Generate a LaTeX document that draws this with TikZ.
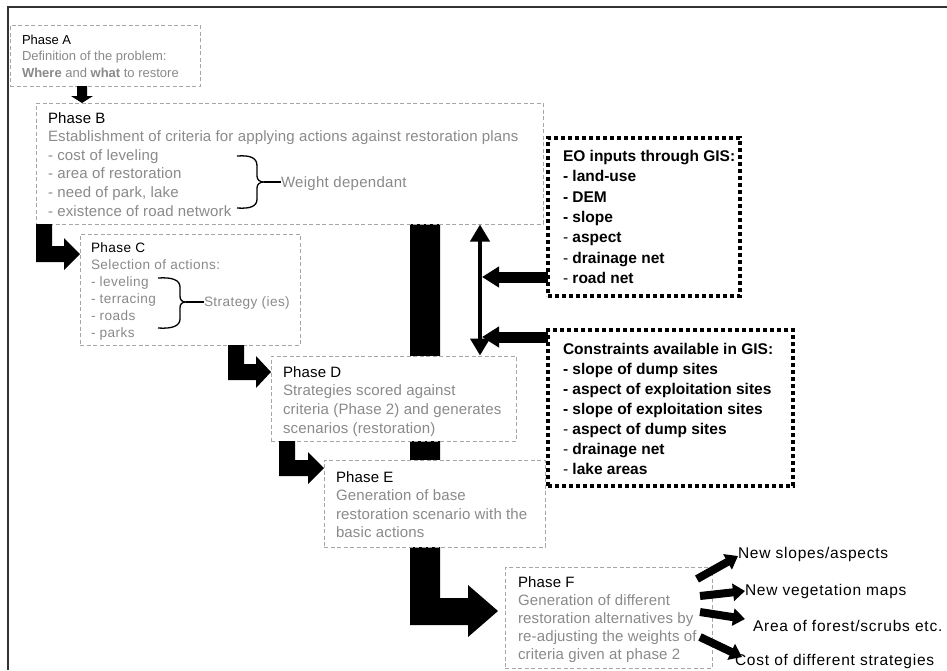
\documentclass[tikz,border=0pt]{standalone}
\usepackage{fontspec}
\setmainfont{Liberation Sans}
\usetikzlibrary{arrows.meta}
\definecolor{txtgray}{HTML}{8A8A8A}
\definecolor{boxgray}{HTML}{A6A6A6}
\newcommand{\glin}[1]{\hbox{\color{txtgray}#1}}
\newcommand{\blin}[1]{\hbox{#1}}
\newcommand{\nb}{\textmd{-}}
\newcommand{\lsp}[1]{\addfontfeature{LetterSpace=#1}}
\tikzset{
  phasebox/.style={draw=boxgray, line width=0.9pt, dash pattern=on 4pt off 2.5pt, fill=white, inner sep=0pt, outer sep=0pt, anchor=north west},
  eobox/.style={draw=black, line width=4pt, dash pattern=on 4pt off 3pt, inner sep=0pt, outer sep=0pt, anchor=north west},
  txt/.style={inner sep=0pt, outer sep=0pt, anchor=base west},
  blockarrow/.style={fill=black},
  gisarrow/.style={line width=11pt, -{Triangle[length=17pt,width=20pt]}},
  outarrow/.style={line width=8pt, -{Triangle[length=12pt,width=17pt]}},
  bracepath/.style={line width=1.3pt},
  frameline/.style={line width=1.8pt, draw=black!80},
  outlabel/.style={txt, font=\fontsize{15.5}{18}\selectfont\lsp{5}},
}
\begin{document}
\begin{tikzpicture}[x=1pt,y=-1pt]
\useasboundingbox (0,0) rectangle (947,670);
\fill[white] (0,0) rectangle (947,670);
% frame
\draw[frameline] (8,670) -- (8,7) -- (947,7);

% big bar + L arrow to Phase F (behind boxes D and E)
\fill[blockarrow] (410,224) -- (410,625) -- (468,625) -- (468,637) -- (498,611) -- (468,585) -- (468,598) -- (440,598) -- (440,224) -- cycle;

% phase boxes
\node[phasebox, minimum width=190pt, minimum height=61pt] (boxA) at (10,25) {};
\node[phasebox, minimum width=507pt, minimum height=121pt] (boxB) at (36,103) {};
\node[phasebox, minimum width=220pt, minimum height=111pt] (boxC) at (80,234) {};
\node[phasebox, minimum width=245pt, minimum height=85pt] (boxD) at (271,356) {};
\node[phasebox, minimum width=221pt, minimum height=87pt] (boxE) at (324,460) {};
\node[phasebox, minimum width=207pt, minimum height=101pt] (boxF) at (505,567) {};

% dotted GIS boxes
\node[eobox, minimum width=192pt, minimum height=158pt] (eo) at (548,138) {};
\node[eobox, minimum width=245pt, minimum height=156pt] (cons) at (548,330) {};

% texts of phases
\node[txt] (tA) at (22,44) {\fontsize{13}{16.7}\selectfont\vtop{\blin{Phase A}\glin{Definition of the problem:}\glin{\textbf{Where} and \textbf{what} to restore}}};
\node[txt] (tB) at (48,123) {\fontsize{15}{18.6}\selectfont\lsp{1}\vtop{\blin{Phase B}\glin{Establishment of criteria for applying actions against restoration plans}\glin{- cost of leveling}\glin{- area of restoration}\glin{- need of park, lake}\glin{- existence of road network}}};
\node[txt] (wd) at (281,187) {\fontsize{15}{18}\selectfont\lsp{2}\color{txtgray}Weight dependant};
\node[txt] (tC) at (91,252) {\fontsize{13.6}{17}\selectfont\lsp{3}\vtop{\blin{Phase C}\glin{Selection of actions:}\glin{- leveling}\glin{- terracing}\glin{- roads}\glin{- parks}}};
\node[txt] (st) at (204,306) {\fontsize{13.6}{17}\selectfont\lsp{3}\color{txtgray}Strategy (ies)};
\node[txt] (tD) at (283,377) {\fontsize{15}{18.7}\selectfont\lsp{1}\vtop{\blin{Phase D}\glin{Strategies scored against}\glin{criteria (Phase 2) and generates}\glin{scenarios (restoration)}}};
\node[txt] (tE) at (336,482) {\fontsize{15}{18.5}\selectfont\lsp{1}\vtop{\blin{Phase E}\glin{Generation of base}\glin{restoration scenario with the}\glin{basic actions}}};
\node[txt] (tF) at (518,587) {\fontsize{15}{18}\selectfont\lsp{1}\vtop{\blin{Phase F}\glin{Generation of different}\glin{restoration alternatives by}\glin{re-adjusting the weights of}\glin{criteria given at phase 2}}};

% GIS texts
\node[txt] (tEO) at (563,161.5) {\fontsize{15.5}{20.3}\selectfont\bfseries\vtop{\blin{EO inputs through GIS:}\blin{- land-use}\blin{- DEM}\blin{- slope}\blin{\nb{} aspect}\blin{\nb{} drainage net}\blin{\nb{} road net}}};
\node[txt] (tCons) at (563,354.5) {\fontsize{15.5}{20}\selectfont\bfseries\vtop{\blin{Constraints available in GIS:}\blin{- slope of dump sites}\blin{- aspect of exploitation sites}\blin{- slope of exploitation sites}\blin{\nb{} aspect of dump sites}\blin{\nb{} drainage net}\blin{\nb{} lake areas}}};

% output labels
\node[outlabel] (o1) at (738,558.5) {New slopes/aspects};
\node[outlabel] (o2) at (745,595.5) {New vegetation maps};
\node[outlabel] (o3) at (753,631.5) {Area of forest/scrubs etc.};
\node[outlabel] (o4) at (735,665.5) {Cost of different strategies};

% braces
\draw[bracepath] (237,156) .. controls (251,155) and (257,158) .. (257,166) -- (257,176)
  .. controls (257,180) and (260,182) .. (264,182) .. controls (260,182) and (257,184) .. (257,188)
  -- (257,199) .. controls (257,206) and (251,209) .. (237,208);
\draw[bracepath] (264,182) -- (wd.west |- 0,182);
\draw[bracepath] (158,278) .. controls (172,277) and (180,280) .. (180,287) -- (180,296)
  .. controls (180,300) and (182,302) .. (186,302) .. controls (182,302) and (180,304) .. (180,308)
  -- (180,319) .. controls (180,326) and (172,329) .. (158,328);
\draw[bracepath] (186,302) -- (st.west |- 0,302);

% block arrows between phases
\fill[blockarrow] (77,86) -- (77,96) -- (71,96) -- (82,103) -- (93,96) -- (87,96) -- (87,86) -- cycle;
\fill[blockarrow] (36,224) -- (36,262) -- (64,262) -- (64,270) -- (80,254) -- (64,238) -- (64,246) -- (52,246) -- (52,224) -- cycle;
\fill[blockarrow] (228,345) -- (228,380) -- (256,380) -- (256,388) -- (271,372) -- (256,356) -- (256,364) -- (244,364) -- (244,345) -- cycle;
\fill[blockarrow] (279,441) -- (279,476) -- (308,476) -- (308,484) -- (324,468) -- (308,452) -- (308,460) -- (295,460) -- (295,441) -- cycle;

% double-headed GIS line
\coordinate (vtop) at (480,224.5);
\coordinate (vbot) at (480,355.5);
\draw[line width=4pt, {Triangle[length=17pt,width=19pt]}-{Triangle[length=17pt,width=19pt]}] (vtop) -- (vbot);
\draw[gisarrow] (eo.west |- 0,277) -- (482,277);
\draw[gisarrow] (cons.west |- 0,337) -- (482,337);

% outputs of phase F
\coordinate (f1) at (697,579);
\coordinate (f2) at (700,596);
\coordinate (f3) at (700,612);
\coordinate (f4) at (700,637);
\draw[outarrow] (f1) -- (o1.west |- 0,556);
\draw[outarrow] (f2) -- (o2.west |- 0,591);
\draw[outarrow] (f3) -- (745,619);
\draw[outarrow] (f4) -- (742,657);
\end{tikzpicture}
\end{document}
